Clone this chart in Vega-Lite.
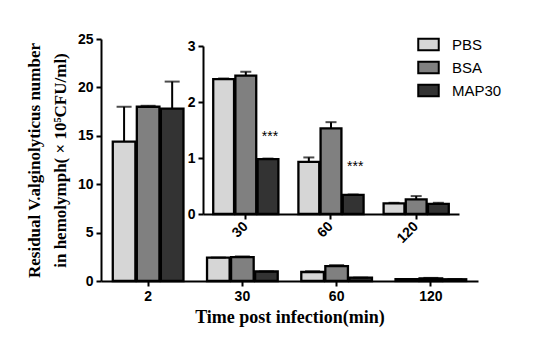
{
  "$schema": "https://vega.github.io/schema/vega-lite/v6.json",
  "width": 377,
  "height": 242,
  "autosize": {"type": "none"},
  "padding": {"left": 101, "top": 39, "right": 58, "bottom": 74},
  "background": "white",
  "config": {
    "view": {"stroke": null},
    "axis": {
      "grid": false,
      "domainColor": "black",
      "domainWidth": 2,
      "tickColor": "black",
      "tickWidth": 2,
      "tickSize": 5,
      "labelFont": "Liberation Sans",
      "labelFontWeight": "bold",
      "labelFontSize": 14,
      "labelColor": "black",
      "titleColor": "black",
      "titleFont": "Liberation Serif",
      "titleFontWeight": "bold"
    }
  },
  "datasets": {
    "main": [
      {"time": "2", "group": "PBS", "mean": 14.4, "upper": 18.0},
      {"time": "2", "group": "BSA", "mean": 18.0, "upper": 18.1},
      {"time": "2", "group": "MAP30", "mean": 17.8, "upper": 20.6},
      {"time": "30", "group": "PBS", "mean": 2.41, "upper": 2.42},
      {"time": "30", "group": "BSA", "mean": 2.47, "upper": 2.54},
      {"time": "30", "group": "MAP30", "mean": 0.98, "upper": 0.99},
      {"time": "60", "group": "PBS", "mean": 0.93, "upper": 1.01},
      {"time": "60", "group": "BSA", "mean": 1.53, "upper": 1.64},
      {"time": "60", "group": "MAP30", "mean": 0.34, "upper": 0.35},
      {"time": "120", "group": "PBS", "mean": 0.19, "upper": 0.2},
      {"time": "120", "group": "BSA", "mean": 0.26, "upper": 0.32},
      {"time": "120", "group": "MAP30", "mean": 0.18, "upper": 0.2}
    ],
    "inset": [
      {"time": "30", "group": "PBS", "mean": 2.41, "upper": 2.42},
      {"time": "30", "group": "BSA", "mean": 2.47, "upper": 2.54},
      {"time": "30", "group": "MAP30", "mean": 0.98, "upper": 0.99},
      {"time": "60", "group": "PBS", "mean": 0.93, "upper": 1.01},
      {"time": "60", "group": "BSA", "mean": 1.53, "upper": 1.64},
      {"time": "60", "group": "MAP30", "mean": 0.34, "upper": 0.35},
      {"time": "120", "group": "PBS", "mean": 0.19, "upper": 0.2},
      {"time": "120", "group": "BSA", "mean": 0.26, "upper": 0.32},
      {"time": "120", "group": "MAP30", "mean": 0.18, "upper": 0.2}
    ],
    "stars": [
      {"time": "30", "group": "MAP30", "mean": 1.3, "label": "***"},
      {"time": "60", "group": "MAP30", "mean": 0.77, "label": "***"}
    ]
  },
  "layer": [
    {
      "data": {"name": "main"},
      "encoding": {
        "x": {
          "field": "time", "type": "ordinal", "sort": ["2", "30", "60", "120"],
          "scale": {"paddingInner": 0.25, "paddingOuter": 0.125},
          "axis": {"title": "Time post infection(min)", "titleFontSize": 18, "titlePadding": 5, "labelAngle": 0, "labelPadding": 3}
        },
        "xOffset": {"field": "group", "type": "nominal", "sort": ["PBS", "BSA", "MAP30"], "scale": {"paddingInner": 0.06}},
        "y": {
          "field": "mean", "type": "quantitative",
          "scale": {"domain": [0, 25], "nice": false},
          "axis": {
            "values": [0, 5, 10, 15, 20, 25],
            "title": ["Residual V.alginolyticus number", "in hemolymph( × 10⁵CFU/ml)"],
            "titleFontSize": 17, "titleLineHeight": 26, "titlePadding": 8, "labelPadding": 3
          }
        }
      },
      "layer": [
        {
          "mark": {"type": "bar", "stroke": "black", "strokeWidth": 2.3},
          "encoding": {
            "color": {
              "field": "group", "type": "nominal",
              "scale": {"domain": ["PBS", "BSA", "MAP30"], "range": ["#d6d6d6", "#808080", "#333333"]},
              "legend": {
                "orient": "none", "legendX": 316, "legendY": -6, "title": null, "padding": 0,
                "labelFont": "Liberation Sans", "labelFontSize": 15, "labelColor": "black", "labelOffset": 12,
                "symbolType": "M-1,-0.55H1V0.55H-1Z", "symbolSize": 420,
                "symbolStrokeColor": "black", "symbolStrokeWidth": 2, "symbolOpacity": 1, "rowPadding": 1
              }
            }
          }
        },
        {
          "mark": {"type": "rule", "color": "black", "strokeWidth": 2},
          "encoding": {"y2": {"field": "upper"}}
        },
        {
          "mark": {"type": "tick", "color": "black", "thickness": 2, "size": 15, "orient": "horizontal"},
          "encoding": {"y": {"field": "upper", "type": "quantitative"}}
        }
      ]
    },
    {
      "encoding": {
        "x": {
          "field": "time", "type": "ordinal", "sort": ["30", "60", "120"],
          "scale": {"range": [102, 358], "paddingInner": 0.235, "paddingOuter": 0.12},
          "axis": {"orient": "bottom", "offset": -67, "title": null, "labelAngle": -45, "labelAlign": "right", "labelBaseline": "middle", "labelPadding": 5}
        },
        "xOffset": {"field": "group", "type": "nominal", "sort": ["PBS", "BSA", "MAP30"], "scale": {"paddingInner": 0.06}},
        "y": {
          "field": "mean", "type": "quantitative",
          "scale": {"domain": [0, 3], "nice": false, "range": [175, 7]},
          "axis": {"orient": "left", "offset": -102, "values": [0, 1, 2, 3], "title": null, "labelPadding": 3}
        }
      },
      "layer": [
        {
          "data": {"name": "inset"},
          "mark": {"type": "bar", "stroke": "black", "strokeWidth": 2.3},
          "encoding": {"color": {"field": "group", "type": "nominal", "legend": null}}
        },
        {
          "data": {"name": "inset"},
          "mark": {"type": "rule", "color": "black", "strokeWidth": 2},
          "encoding": {"y2": {"field": "upper"}}
        },
        {
          "data": {"name": "inset"},
          "mark": {"type": "tick", "color": "black", "thickness": 2, "size": 11, "orient": "horizontal"},
          "encoding": {"y": {"field": "upper", "type": "quantitative"}}
        },
        {
          "data": {"name": "stars"},
          "mark": {"type": "text", "font": "Liberation Sans", "fontSize": 14, "color": "black", "baseline": "alphabetic", "align": "center", "dx": 2},
          "encoding": {"text": {"field": "label"}}
        }
      ]
    }
  ],
  "resolve": {
    "scale": {"x": "independent", "y": "independent", "xOffset": "independent", "color": "shared"},
    "axis": {"x": "independent", "y": "independent"}
  }
}
